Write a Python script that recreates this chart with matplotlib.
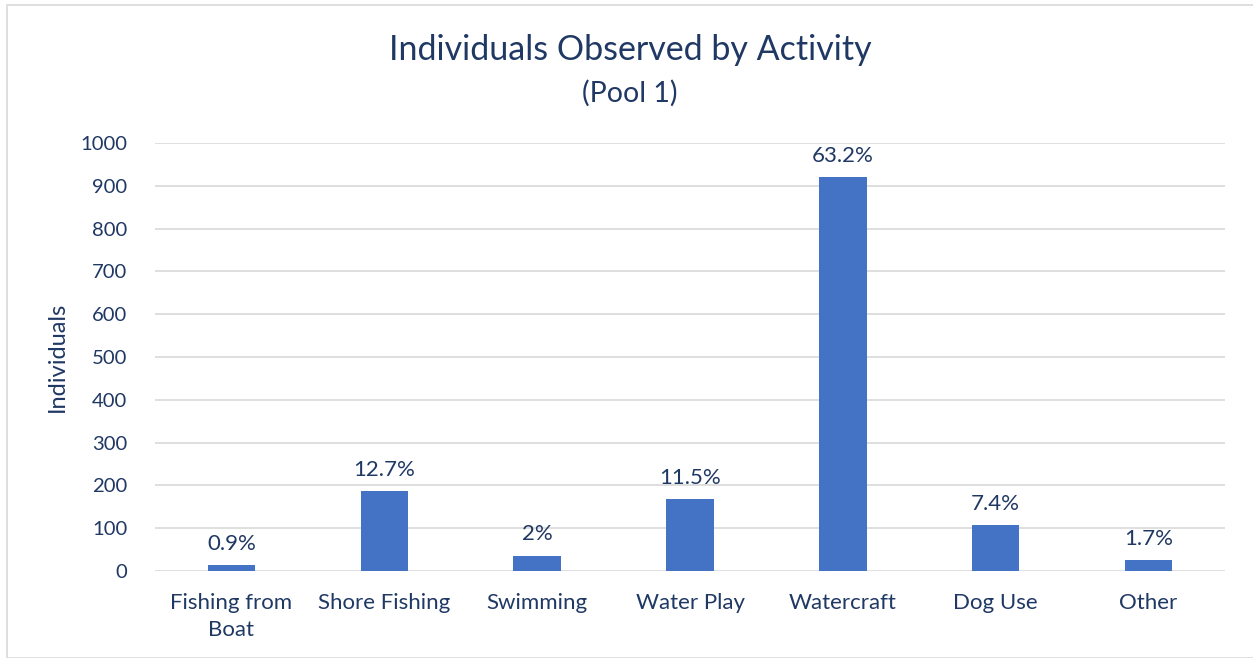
import matplotlib.pyplot as plt
from matplotlib.patches import Rectangle

# -------------------------------
# Datos
# -------------------------------
activities = ["Fishing from\nBoat", "Shore Fishing", "Swimming", "Water Play",
              "Watercraft", "Dog Use", "Other"]
individuals = [13, 186, 36, 168, 920, 108, 26]
pct_labels = ["0.9%", "12.7%", "2%", "11.5%", "63.2%", "7.4%", "1.7%"]
yticks = [0, 100, 200, 300, 400, 500, 600, 700, 800, 900, 1000]

TEXT = "#1f3864"
BAR = "#4472c4"
GRID = "#d9d9d9"

plt.rcParams['font.family'] = ['Lato', 'DejaVu Sans']

W, H = 1253, 658
fig = plt.figure(figsize=(W / 100, H / 100), dpi=100)

# borde del area del grafico
fig.patches.append(Rectangle((7 / W, 0), 1.0, 1 - 5 / H, transform=fig.transFigure,
                             fill=False, edgecolor=GRID, linewidth=1.2))

# ejes: x 155..1225, y 143..571 (pixeles)
ax = fig.add_axes([155 / W, 1 - 571 / H, (1225 - 155) / W, (571 - 143) / H])
x = range(len(activities))
bars = ax.bar(x, individuals, width=0.31, color=BAR, zorder=3)

ax.set_ylim(0, 1000)
ax.set_xlim(-0.5, len(activities) - 0.5)
ax.set_yticks(yticks)
ax.set_xticks(list(x))
ax.set_xticklabels(activities, fontsize=16, color=TEXT, linespacing=1.45)
ax.tick_params(axis='y', labelsize=14.6, labelcolor=TEXT, length=0, pad=20)
ax.tick_params(axis='x', length=0, pad=16)
ax.grid(axis='y', color=GRID, linewidth=1.2, zorder=0)
for s in ax.spines.values():
    s.set_visible(False)

for b, lab in zip(bars, pct_labels):
    ax.annotate(lab, (b.get_x() + b.get_width() / 2, b.get_height()),
                xytext=(0, 8), textcoords='offset points', ha='center', va='bottom',
                fontsize=16, color=TEXT)

ax.set_ylabel("Individuals", fontsize=17, color=TEXT, labelpad=9)

fig.text(630 / W, 1 - 50 / H, "Individuals Observed by Activity", ha='center', va='center',
         fontsize=24.5, color=TEXT)
fig.text(630 / W, 1 - 93 / H, "(Pool 1)", ha='center', va='center',
         fontsize=20.5, color=TEXT)

fig.savefig("out.png", dpi=100)
